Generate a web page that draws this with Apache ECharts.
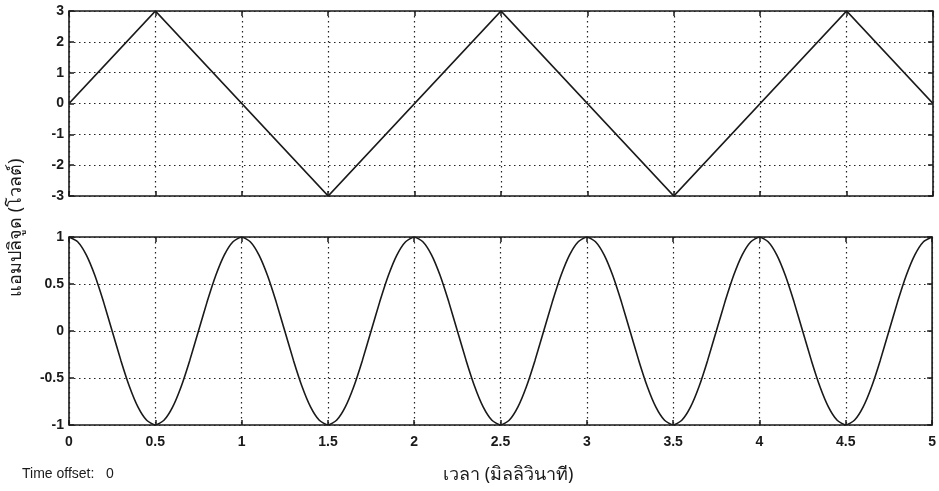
<!DOCTYPE html>
<html>
<head>
<meta charset="utf-8">
<script src="https://cdn.jsdelivr.net/npm/echarts@6/dist/echarts.min.js"></script>
<style>
  html, body { margin: 0; padding: 0; background: #fff; }
  #chart { width: 939px; height: 491px; }
</style>
</head>
<body>
<div id="chart"></div>
<script>
// Triangle wave (top panel): corner points, time in ms, amplitude in V
const triTime = [0, 0.5, 1.5, 2.5, 3.5, 4.5, 5];
const triVolt = [0, 3, -3, 3, -3, 3, 0];

// Cosine-shaped wave (bottom panel), sampled every 0.05 ms
const cosTime = [
  0, 0.05, 0.1, 0.15, 0.2, 0.25, 0.3, 0.35, 0.4, 0.45,
  0.5, 0.55, 0.6, 0.65, 0.7, 0.75, 0.8, 0.85, 0.9, 0.95,
  1, 1.05, 1.1, 1.15, 1.2, 1.25, 1.3, 1.35, 1.4, 1.45,
  1.5, 1.55, 1.6, 1.65, 1.7, 1.75, 1.8, 1.85, 1.9, 1.95,
  2, 2.05, 2.1, 2.15, 2.2, 2.25, 2.3, 2.35, 2.4, 2.45,
  2.5, 2.55, 2.6, 2.65, 2.7, 2.75, 2.8, 2.85, 2.9, 2.95,
  3, 3.05, 3.1, 3.15, 3.2, 3.25, 3.3, 3.35, 3.4, 3.45,
  3.5, 3.55, 3.6, 3.65, 3.7, 3.75, 3.8, 3.85, 3.9, 3.95,
  4, 4.05, 4.1, 4.15, 4.2, 4.25, 4.3, 4.35, 4.4, 4.45,
  4.5, 4.55, 4.6, 4.65, 4.7, 4.75, 4.8, 4.85, 4.9, 4.95,
  5
];
const cosVolt = [
  1, 0.95, 0.81, 0.59, 0.31, 0, -0.31, -0.59, -0.81, -0.95,
  -1, -0.95, -0.81, -0.59, -0.31, 0, 0.31, 0.59, 0.81, 0.95,
  1, 0.95, 0.81, 0.59, 0.31, 0, -0.31, -0.59, -0.81, -0.95,
  -1, -0.95, -0.81, -0.59, -0.31, 0, 0.31, 0.59, 0.81, 0.95,
  1, 0.95, 0.81, 0.59, 0.31, 0, -0.31, -0.59, -0.81, -0.95,
  -1, -0.95, -0.81, -0.59, -0.31, 0, 0.31, 0.59, 0.81, 0.95,
  1, 0.95, 0.81, 0.59, 0.31, 0, -0.31, -0.59, -0.81, -0.95,
  -1, -0.95, -0.81, -0.59, -0.31, 0, 0.31, 0.59, 0.81, 0.95,
  1, 0.95, 0.81, 0.59, 0.31, 0, -0.31, -0.59, -0.81, -0.95,
  -1, -0.95, -0.81, -0.59, -0.31, 0, 0.31, 0.59, 0.81, 0.95,
  1
];

// Tick values
const timeTicks = [0, 0.5, 1, 1.5, 2, 2.5, 3, 3.5, 4, 4.5, 5];
const topTicks = [-3, -2, -1, 0, 1, 2, 3];
const bottomTicks = [-1, -0.5, 0, 0.5, 1];

const labelFont = 'Liberation Sans, Arial, sans-serif';
const ink = '#1a1a1a';
const dotted = { color: '#222', width: 1.2, type: [1.5, 3.5] };

function timeAxis(gridIndex, position, withLabels, withGrid) {
  return {
    type: 'value', gridIndex: gridIndex, position: position,
    min: timeTicks[0], max: timeTicks[timeTicks.length - 1], interval: 0.5,
    axisLine: { show: false, onZero: false },
    axisTick: { show: true, inside: true, length: 5, lineStyle: { color: ink, width: 1.5 } },
    axisLabel: {
      show: withLabels, color: ink, fontFamily: labelFont, fontSize: 14, fontWeight: 'bold', margin: 10,
      formatter: v => String(v)
    },
    splitLine: { show: withGrid, lineStyle: dotted }
  };
}

function voltAxis(gridIndex, position, ticks, step, withLabels, withGrid) {
  return {
    type: 'value', gridIndex: gridIndex, position: position,
    min: ticks[0], max: ticks[ticks.length - 1], interval: step,
    axisLine: { show: false, onZero: false },
    axisTick: { show: true, inside: true, length: 5, lineStyle: { color: ink, width: 1.5 } },
    axisLabel: {
      show: withLabels, color: ink, fontFamily: labelFont, fontSize: 14, fontWeight: 'bold', margin: 5,
      formatter: v => String(v)
    },
    splitLine: { show: withGrid, lineStyle: dotted }
  };
}

const chart = echarts.init(document.getElementById('chart'), null, { renderer: 'canvas' });

chart.setOption({
  backgroundColor: '#ffffff',
  animation: false,
  grid: [
    { left: 69, right: 6, top: 11, height: 185, show: true, borderColor: ink, borderWidth: 1.6, backgroundColor: 'transparent' },
    { left: 69, right: 6, top: 237, height: 188, show: true, borderColor: ink, borderWidth: 1.6, backgroundColor: 'transparent' }
  ],
  xAxis: [
    timeAxis(0, 'bottom', false, true),
    timeAxis(0, 'top', false, false),
    timeAxis(1, 'bottom', true, true),
    timeAxis(1, 'top', false, false)
  ],
  yAxis: [
    voltAxis(0, 'left', topTicks, 1, true, true),
    voltAxis(0, 'right', topTicks, 1, false, false),
    voltAxis(1, 'left', bottomTicks, 0.5, true, true),
    voltAxis(1, 'right', bottomTicks, 0.5, false, false)
  ],
  series: [
    {
      type: 'line', xAxisIndex: 0, yAxisIndex: 0,
      data: triTime.map((t, i) => [t, triVolt[i]]),
      showSymbol: false, lineStyle: { color: ink, width: 1.8 }, z: 5
    },
    {
      type: 'line', xAxisIndex: 2, yAxisIndex: 2,
      data: cosTime.map((t, i) => [t, cosVolt[i]]),
      showSymbol: false, smooth: 0.2, lineStyle: { color: ink, width: 1.6 }, z: 5
    }
  ],
  graphic: [
    {
      type: 'text', rotation: Math.PI / 2, x: 7, y: 297,
      style: {
        text: 'แอมปลิจูด (โวลต์)', fill: ink,
        font: '18px "Noto Sans", "DejaVu Sans", sans-serif'
      }
    },
    {
      type: 'text', x: 22, y: 467,
      style: { text: 'Time offset:   0', fill: ink, font: '14px "Liberation Sans", Arial, sans-serif' }
    },
    {
      type: 'text', x: 443, y: 466,
      style: { text: 'เวลา (มิลลิวินาที)', fill: ink, font: '18px "Noto Sans", "DejaVu Sans", sans-serif' }
    }
  ]
});
</script>
</body>
</html>
